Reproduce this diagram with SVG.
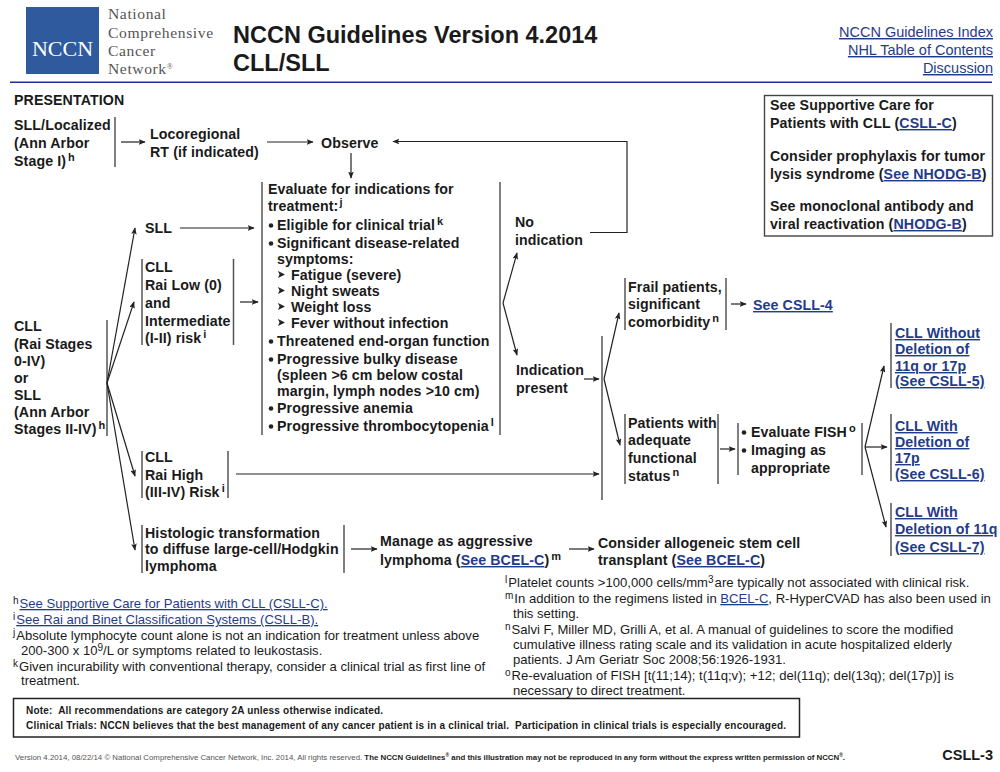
<svg xmlns="http://www.w3.org/2000/svg" width="1000" height="772" viewBox="0 0 1000 772">
<style>
text{font-family:"Liberation Sans",Arial,sans-serif;fill:#1a1a1a}
.b{font-weight:700;font-size:14.2px;letter-spacing:.1px}
.f{font-size:13.1px}
.l{fill:#1f3c88;text-decoration:underline}
.s{font-size:11px}
.f .s{font-size:10px}
.bar{stroke:#555;stroke-width:1.5;fill:none}
.c{stroke:#222;stroke-width:1.2;fill:none;marker-end:url(#a)}
.n{font-weight:700;font-size:10px;letter-spacing:.2px;white-space:pre}
.lg{font-family:"Liberation Serif",serif;font-size:15.6px;fill:#555;letter-spacing:.6px}
.d{fill:#222}
.t{font-weight:700;font-size:23.5px}
</style>
<defs><marker id="a" viewBox="0 0 10 8" refX="9" refY="4" markerWidth="7" markerHeight="5.6" markerUnits="userSpaceOnUse" orient="auto"><path d="M0 0L10 4L0 8L2 4Z" fill="#222"/></marker></defs>
<rect width="1000" height="772" fill="#fff"/>
<g id="header">
<rect x="26" y="7" width="73" height="67" fill="#2f5a9e"/>
<text x="62.500" y="56" text-anchor="middle" style="font-family:'Liberation Serif',serif;font-size:22px;fill:#fff">NCCN</text>
<text class="lg" x="108" y="19">National</text>
<text class="lg" x="108" y="38">Comprehensive</text>
<text class="lg" x="108" y="56">Cancer</text>
<text class="lg" x="108" y="74">Network<tspan font-size="8" dy="-5">®</tspan></text>
<text class="t" x="233" y="43">NCCN Guidelines Version 4.2014</text>
<text class="t" x="233" y="71">CLL/SLL</text>
<text class="l" x="993" y="37" text-anchor="end" font-size="14.5">NCCN Guidelines Index</text>
<text class="l" x="993" y="55" text-anchor="end" font-size="14.5">NHL Table of Contents</text>
<text class="l" x="993" y="73" text-anchor="end" font-size="14.5">Discussion</text>
<rect x="10" y="81.500" width="982" height="1.500" fill="#1f2f9f"/>
</g>
<g id="connectors">
<path class="bar" d="M115 117V167M107 320V436M142 259V345M233.500 259V345M262 182V435M500 182V435M142 451V498M228 451V498M142 525V573M344 525V573M602 336V500M625 278V330M726 278V330M625 414V484M718 414V484M738 423V475M862 423V475M891 323V388M891 414V481M891 503V556"/>
<path class="c" d="M121 142H145"/>
<path class="c" d="M267 142H313"/>
<path class="c" d="M351 153V178"/>
<path class="c" d="M590 232.500H627V141.500H393"/>
<path class="c" d="M180 228H254"/>
<path class="c" d="M240 302H258"/>
<path class="c" d="M107 383L135 228"/>
<path class="c" d="M107 383L134 302"/>
<path class="c" d="M107 383L135 476"/>
<path class="c" d="M107 383L135 550"/>
<path class="c" d="M236 474H599"/>
<path class="c" d="M503 303L517 253"/>
<path class="c" d="M503 303L517 355"/>
<path class="c" d="M584 379H599"/>
<path class="c" d="M604 379L619 313"/>
<path class="c" d="M604 379L620 445"/>
<path class="c" d="M731 304H746"/>
<path class="c" d="M720 449H735"/>
<path class="c" d="M865 447L884 366"/>
<path class="c" d="M865 447H887"/>
<path class="c" d="M865 447L886 527"/>
<path class="c" d="M351 549H377"/>
<path class="c" d="M569 549H594"/>
</g>
<g id="presentation">
<text class="b" x="14" y="105">PRESENTATION</text>
</g>
<g id="sll-localized">
<text class="b" x="14" y="130">SLL/Localized</text>
<text class="b" x="14" y="148">(Ann Arbor</text>
<text class="b" x="14" y="166">Stage I)<tspan class="s" dx="2" dy="-5">h</tspan></text>
</g>
<g id="locoregional">
<text class="b" x="150" y="139">Locoregional</text>
<text class="b" x="150" y="157">RT (if indicated)</text>
</g>
<g id="observe"><text class="b" x="321" y="148">Observe</text></g>
<g id="cll-left">
<text class="b" x="14" y="331">CLL</text>
<text class="b" x="14" y="349">(Rai Stages</text>
<text class="b" x="14" y="366">0-IV)</text>
<text class="b" x="14" y="383">or</text>
<text class="b" x="14" y="400">SLL</text>
<text class="b" x="14" y="417">(Ann Arbor</text>
<text class="b" x="14" y="434">Stages II-IV)<tspan class="s" dx="2" dy="-5">h</tspan></text>
</g>
<g id="sll"><text class="b" x="145" y="233">SLL</text></g>
<g id="cll-low">
<text class="b" x="145" y="272">CLL</text>
<text class="b" x="145" y="290">Rai Low (0)</text>
<text class="b" x="145" y="308">and</text>
<text class="b" x="145" y="326">Intermediate</text>
<text class="b" x="145" y="343">(I-II) risk<tspan class="s" dx="2" dy="-5">i</tspan></text>
</g>
<g id="cll-high">
<text class="b" x="145" y="462">CLL</text>
<text class="b" x="145" y="480">Rai High</text>
<text class="b" x="145" y="497">(III-IV) Risk<tspan class="s" dx="2" dy="-5">i</tspan></text>
</g>
<g id="histologic">
<text class="b" x="145" y="538">Histologic transformation</text>
<text class="b" x="145" y="554">to diffuse large-cell/Hodgkin</text>
<text class="b" x="145" y="571">lymphoma</text>
</g>
<g id="manage">
<text class="b" x="380" y="546">Manage as aggressive</text>
<text class="b" x="380" y="565">lymphoma (<tspan class="l">See BCEL-C</tspan>)<tspan class="s" dx="2" dy="-5">m</tspan></text>
</g>
<g id="consider">
<text class="b" x="598" y="548">Consider allogeneic stem cell</text>
<text class="b" x="598" y="565">transplant (<tspan class="l">See BCEL-C</tspan>)</text>
</g>
<g id="evaluate">
<text class="b" x="268" y="194">Evaluate for indications for</text>
<text class="b" x="268" y="211">treatment:<tspan class="s" dx="1" dy="-5">j</tspan></text>
<circle class="d" cx="271" cy="225.500" r="2.300"/>
<text class="b" x="277" y="230">Eligible for clinical trial<tspan class="s" dx="2" dy="-5">k</tspan></text>
<circle class="d" cx="271" cy="243.500" r="2.300"/>
<text class="b" x="277" y="248">Significant disease-related</text>
<text class="b" x="277" y="264">symptoms:</text>
<path class="d" d="M278 271l7 3.500l-7 3.500l1.500 -3.500zM278 287l7 3.500l-7 3.500l1.500 -3.500zM278 303l7 3.500l-7 3.500l1.500 -3.500zM278 319l7 3.500l-7 3.500l1.500 -3.500z"/>
<text class="b" x="291" y="280">Fatigue (severe)</text>
<text class="b" x="291" y="296">Night sweats</text>
<text class="b" x="291" y="312">Weight loss</text>
<text class="b" x="291" y="328">Fever without infection</text>
<circle class="d" cx="271" cy="341.500" r="2.300"/>
<text class="b" x="277" y="346">Threatened end-organ function</text>
<circle class="d" cx="271" cy="359.500" r="2.300"/>
<text class="b" x="277" y="364">Progressive bulky disease</text>
<text class="b" x="277" y="380">(spleen &gt;6 cm below costal</text>
<text class="b" x="277" y="396">margin, lymph nodes &gt;10 cm)</text>
<circle class="d" cx="271" cy="408.500" r="2.300"/>
<text class="b" x="277" y="413">Progressive anemia</text>
<circle class="d" cx="271" cy="426.500" r="2.300"/>
<text class="b" x="277" y="431">Progressive thrombocytopenia<tspan class="s" dx="2" dy="-5">l</tspan></text>
</g>
<g id="no-indication">
<text class="b" x="515" y="227">No</text>
<text class="b" x="515" y="245">indication</text>
</g>
<g id="indication-present">
<text class="b" x="516" y="375">Indication</text>
<text class="b" x="516" y="393">present</text>
</g>
<g id="frail">
<text class="b" x="628" y="292">Frail patients,</text>
<text class="b" x="628" y="309">significant</text>
<text class="b" x="628" y="327">comorbidity<tspan class="s" dx="2" dy="-5">n</tspan></text>
</g>
<g id="see-csll-4"><text class="b l" x="753" y="310">See CSLL-4</text></g>
<g id="adequate">
<text class="b" x="628" y="428">Patients with</text>
<text class="b" x="628" y="445">adequate</text>
<text class="b" x="628" y="463">functional</text>
<text class="b" x="628" y="481">status<tspan class="s" dx="2" dy="-5">n</tspan></text>
</g>
<g id="fish">
<circle class="d" cx="744" cy="432.500" r="2.300"/>
<text class="b" x="751" y="437">Evaluate FISH<tspan class="s" dx="2" dy="-5">o</tspan></text>
<circle class="d" cx="744" cy="450.500" r="2.300"/>
<text class="b" x="751" y="455">Imaging as</text>
<text class="b" x="751" y="473">appropriate</text>
</g>
<g id="csll-5">
<text class="b l" x="895" y="338">CLL Without</text>
<text class="b l" x="895" y="354">Deletion of</text>
<text class="b l" x="895" y="371">11q or 17p</text>
<text class="b l" x="895" y="386">(See CSLL-5)</text>
</g>
<g id="csll-6">
<text class="b l" x="895" y="431">CLL With</text>
<text class="b l" x="895" y="447">Deletion of</text>
<text class="b l" x="895" y="463">17p</text>
<text class="b l" x="895" y="479">(See CSLL-6)</text>
</g>
<g id="csll-7">
<text class="b l" x="895" y="517">CLL With</text>
<text class="b l" x="895" y="534">Deletion of 11q</text>
<text class="b l" x="895" y="552">(See CSLL-7)</text>
</g>
<g id="supportive-box">
<rect x="764.500" y="95.500" width="228" height="140.500" fill="#fff" stroke="#444" stroke-width="1.400"/>
<text class="b" x="770" y="110">See Supportive Care for</text>
<text class="b" x="770" y="128">Patients with CLL (<tspan class="l">CSLL-C</tspan>)</text>
<text class="b" x="770" y="161">Consider prophylaxis for tumor</text>
<text class="b" x="770" y="179">lysis syndrome (<tspan class="l">See NHODG-B</tspan>)</text>
<text class="b" x="770" y="211">See monoclonal antibody and</text>
<text class="b" x="770" y="229">viral reactivation (<tspan class="l">NHODG-B</tspan>)</text>
</g>
<g id="footnotes">
<text class="f" x="13" y="608"><tspan class="s" dy="-4">h</tspan><tspan class="l" dx="1" dy="4">See Supportive Care for Patients with CLL (CSLL-C)</tspan><tspan class="l">.</tspan></text>
<text class="f" x="13" y="624"><tspan class="s" dy="-4">i</tspan><tspan class="l" dx="1" dy="4">See Rai and Binet Classification Systems (CSLL-B)</tspan><tspan class="l">.</tspan></text>
<text class="f" x="13" y="640"><tspan class="s" dy="-4">j</tspan><tspan dx="1" dy="4">Absolute lymphocyte count alone is not an indication for treatment unless above</tspan></text>
<text class="f" x="21" y="655">200-300 x 10<tspan class="s" dy="-4">9</tspan><tspan dy="4">/L or symptoms related to leukostasis.</tspan></text>
<text class="f" x="13" y="671"><tspan class="s" dy="-4">k</tspan><tspan dx="1" dy="4">Given incurability with conventional therapy, consider a clinical trial as first line of</tspan></text>
<text class="f" x="21" y="685">treatment.</text>
<text class="f" x="505" y="587"><tspan class="s" dy="-4">l</tspan><tspan dx="1" dy="4">Platelet counts &gt;100,000 cells/mm</tspan><tspan class="s" dy="-4">3</tspan><tspan dx="1" dy="4">are typically not associated with clinical risk.</tspan></text>
<text class="f" x="505" y="603"><tspan class="s" dy="-4">m</tspan><tspan dx="1" dy="4">In addition to the regimens listed in </tspan><tspan class="l">BCEL-C</tspan>, R-HyperCVAD has also been used in</text>
<text class="f" x="513" y="618">this setting.</text>
<text class="f" x="505" y="634"><tspan class="s" dy="-4">n</tspan><tspan dx="1" dy="4">Salvi F, Miller MD, Grilli A, et al. A manual of guidelines to score the modified</tspan></text>
<text class="f" x="513" y="649">cumulative illness rating scale and its validation in acute hospitalized elderly</text>
<text class="f" x="513" y="664">patients. J Am Geriatr Soc 2008;56:1926-1931.</text>
<text class="f" x="505" y="680"><tspan class="s" dy="-4">o</tspan><tspan dx="1" dy="4">Re-evaluation of FISH [t(11;14); t(11q;v); +12; del(11q); del(13q); del(17p)] is</tspan></text>
<text class="f" x="513" y="695">necessary to direct treatment.</text>
</g>
<g id="note">
<rect x="13.500" y="698.500" width="786" height="38.500" fill="#fff" stroke="#222" stroke-width="1.500"/>
<text class="n" x="26" y="714">Note:  All recommendations are category 2A unless otherwise indicated.</text>
<text class="n" x="26" y="729">Clinical Trials: NCCN believes that the best management of any cancer patient is in a clinical trial.  Participation in clinical trials is especially encouraged.</text>
</g>
<g id="footer">
<text x="15" y="760" font-size="7.85" style="fill:#555">Version 4.2014, 08/22/14 © National Comprehensive Cancer Network, Inc. 2014, All rights reserved. <tspan style="font-weight:700;fill:#222">The NCCN Guidelines<tspan font-size="5" dy="-3">®</tspan><tspan dy="3"> and this illustration may not be reproduced in any form without the express written permission of NCCN</tspan><tspan font-size="5" dy="-3">®</tspan><tspan dy="3">.</tspan></tspan></text>
<text x="993" y="760" text-anchor="end" style="font-weight:700;font-size:14.500px">CSLL-3</text>
</g>
</svg>
